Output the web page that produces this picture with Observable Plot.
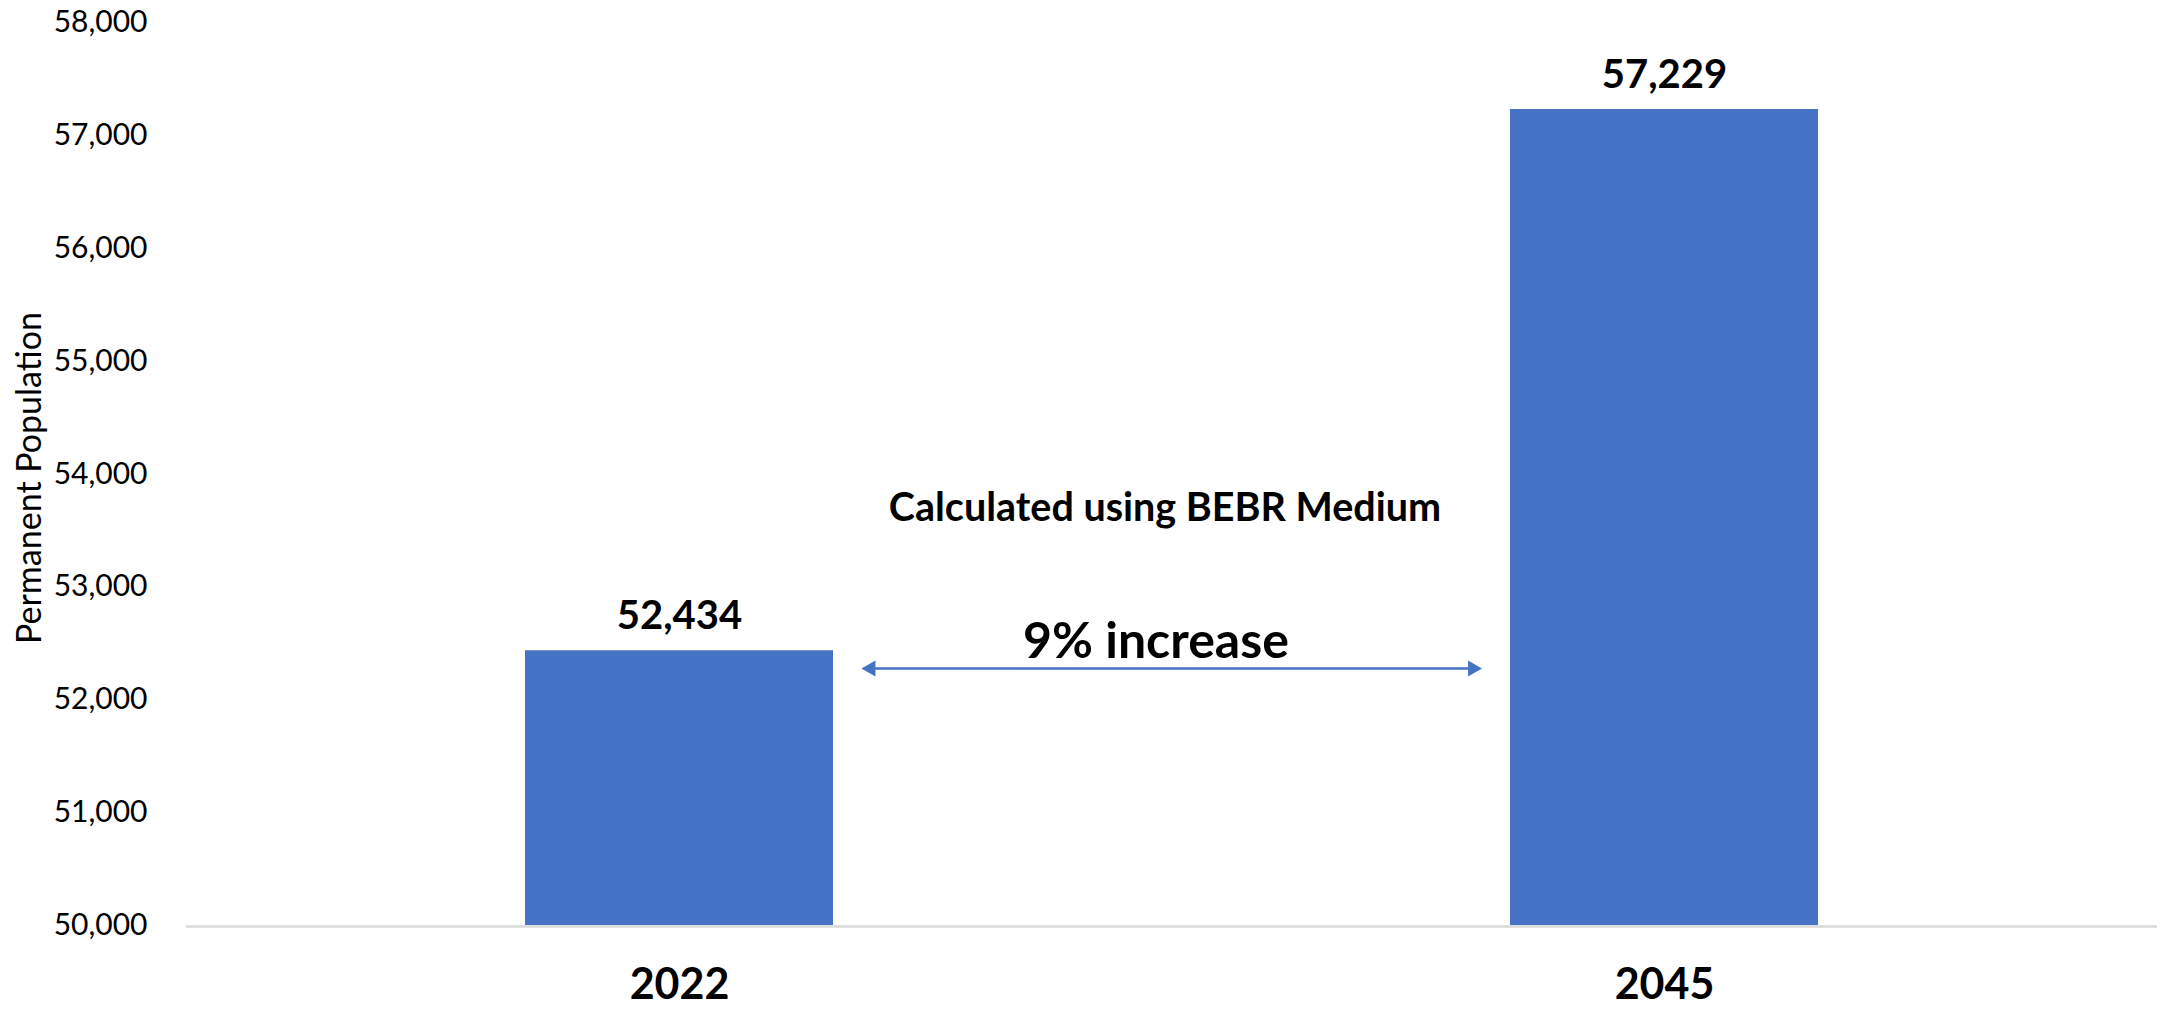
<!DOCTYPE html>
<html><head><meta charset="utf-8">
<script src="https://cdn.jsdelivr.net/npm/d3@7"></script>
<script src="https://cdn.jsdelivr.net/npm/@observablehq/plot@0.6"></script>
<style>body{margin:0;background:#fff;} svg{display:block;}</style>
</head><body><div id="chart"></div>
<script>
// ---- data ----
const years = ["2022", "2045"];
const population = [52434, 57229];
const yTicks = [50000, 51000, 52000, 53000, 54000, 55000, 56000, 57000, 58000];
const yDomain = [50000, 58000];
const axisTitle = "Permanent Population";
const noteMethod = "Calculated using BEBR Medium";
const noteIncrease = "9% increase";
// annotation anchor values (in population units)
const arrowLevel = [52277];
const increaseLevel = [52374];
const methodLevel = [53588];

const BLUE = "#4472C4";
const data = years.map((y, i) => ({year: y, value: population[i]}));
const arrowData = [{from: years[0], to: years[1], y: arrowLevel[0]}];

const chart = Plot.plot({
  width: 2164,
  height: 1009,
  marginLeft: 186,
  marginRight: 7,
  marginTop: 22,
  marginBottom: 84,
  style: {fontFamily: "Lato, sans-serif", background: "white", color: "#000"},
  x: {domain: years, paddingInner: 0.687, paddingOuter: 0.344},
  y: {domain: yDomain},
  marks: [
    Plot.ruleY([yDomain[0]], {stroke: "#d9d9d9", strokeWidth: 2.5, dy: 1}),
    Plot.barY(data, {x: "year", y1: yDomain[0], y2: "value", fill: BLUE}),
    Plot.text(data, {x: "year", y: "value", text: d => d3.format(",")(d.value),
      lineAnchor: "bottom", dy: -22, fontSize: 40, fontWeight: "bold"}),
    Plot.axisY({ticks: yTicks, tickFormat: d3.format(","), tickSize: 0, tickPadding: 39,
      fontSize: 30, label: null}),
    Plot.axisX({tickSize: 0, tickPadding: 43, fontSize: 43, fontWeight: "bold", label: null}),
    Plot.text([axisTitle], {frameAnchor: "left", textAnchor: "middle", dx: -156, dy: 4, rotate: -90,
      text: d => d, fontSize: 34}),
    Plot.arrow(arrowData, {x1: "from", x2: "to", y: "y", insetStart: 190, insetEnd: 190,
      headLength: 0, stroke: BLUE, strokeWidth: 2.5}),
    Plot.dot(arrowData, {x: "from", y: "y", symbol: "triangle", r: 6, rotate: -90,
      fill: BLUE, dx: 191.3}),
    Plot.dot(arrowData, {x: "to", y: "y", symbol: "triangle", r: 6, rotate: 90,
      fill: BLUE, dx: -191.8}),
    Plot.text([noteIncrease], {frameAnchor: "middle", y: () => increaseLevel[0], text: d => d,
      lineAnchor: "bottom", dx: -16, fontSize: 50, fontWeight: "bold"}),
    Plot.text([noteMethod], {frameAnchor: "middle", y: () => methodLevel[0], text: d => d,
      lineAnchor: "bottom", dx: -7, fontSize: 39.5, fontWeight: "bold"})
  ]
});
document.getElementById("chart").appendChild(chart);
</script>
</body></html>
